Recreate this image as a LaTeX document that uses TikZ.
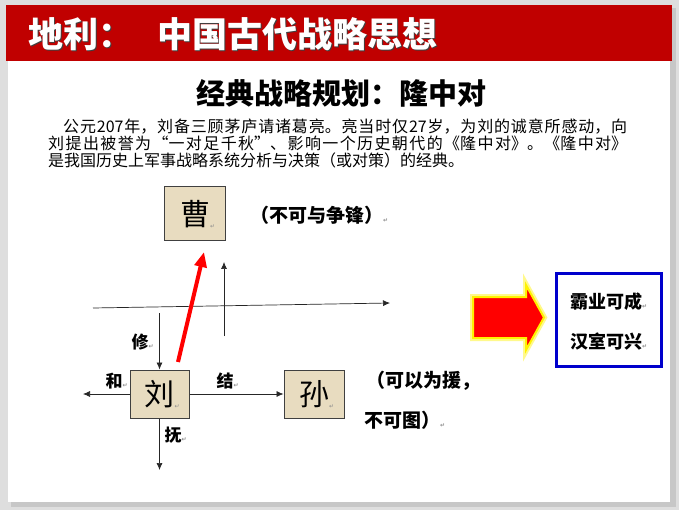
\documentclass[tikz,border=0pt]{standalone}
\usepackage{fontspec}
\newfontfamily\cjk{Noto Sans CJK SC}
\newfontfamily\symfont{DejaVu Sans}
\usetikzlibrary{arrows.meta}
\XeTeXlinebreaklocale "zh"
\XeTeXlinebreakskip=0pt plus 2pt
\definecolor{hdrred}{RGB}{192,0,0}
\definecolor{boxfill}{RGB}{232,220,192}
\definecolor{boxblue}{RGB}{0,0,204}
\newcommand\retmk{{\symfont\fontsize{6}{6}\selectfont\color{black!45}↵}}
\begin{document}
\begin{tikzpicture}[x=1pt,y=-1pt,
  box/.style={draw=black!75, line width=1pt, fill=boxfill, inner sep=0pt, font=\cjk\fontsize{30}{30}\selectfont},
  lbl/.style={inner sep=0pt, font=\cjk\bfseries\fontsize{17}{17}\selectfont},
  note/.style={inner sep=0pt, anchor=west, font=\cjk\bfseries\fontsize{19}{19}\selectfont},
  goal/.style={inner sep=0pt, font=\cjk\bfseries\fontsize{18}{18}\selectfont},
  arr/.style={-{Latex[length=7pt,width=6pt]}, line width=0.7pt, black!85},
  titlefont/.style={inner sep=0pt, anchor=west, font=\cjk\bfseries\fontsize{35}{35}\selectfont},
]
\useasboundingbox (0,0) rectangle (679,510);
% page and shadow
\fill[black!13] (0,0) rectangle (679,510);
\fill[black!22] (11,8) rectangle (676,507);
\fill[white] (8,5) rectangle (670,502);
\fill[hdrred] (6,5) rectangle (672,61);
% header title
\node[titlefont, text=black!75] at (29.5,35.5) {地利：\hspace{24pt}中国古代战略思想};
\node[titlefont, text=white] (title) at (28,34) {地利：\hspace{24pt}中国古代战略思想};
% subtitle
\node[inner sep=0pt, font=\cjk\bfseries\fontsize{29}{29}\selectfont] (sub) at (341,93) {经典战略规划：隆中对};
% paragraph
\node[anchor=north west, inner sep=0pt, text width=579pt, align=justify,
      font=\cjk\fontsize{16}{17}\selectfont] (para) at (48,119)
  {\hspace*{15pt}公元207年，刘备三顾茅庐请诸葛亮。亮当时仅27岁，为刘的诚意所感动，向\linebreak
   刘提出被誉为“一对足千秋”、影响一个历史朝代的《隆中对》。《隆中对》\linebreak
   是我国历史上军事战略系统分析与决策（或对策）的经典。};
% axes
\coordinate (xL) at (93,308);
\coordinate (xR) at (390,303);
\draw[arr] (xL) -- (xR);
\coordinate (yB) at (224,336);
\coordinate (yT) at (224,262);
\draw[arr] (yB) -- (yT);
% boxes
\node[box, minimum width=61pt, minimum height=54pt] (cao) at (195,214) {曹\rlap{\raisebox{-3pt}{\retmk}}};
\node[box, minimum width=59pt, minimum height=48pt] (liu) at (159.5,394) {刘\rlap{\raisebox{-3pt}{\retmk}}};
\node[box, minimum width=60pt, minimum height=48pt] (sun) at (314,394) {孙\rlap{\raisebox{-3pt}{\retmk}}};
% connectors around liu
\coordinate (xiuT) at (159.5,313);
\draw[arr] (xiuT) -- (liu.north);
\coordinate (heL) at (83,394);
\draw[arr] (liu.west) -- (heL);
\draw[arr] (liu.east) -- (sun.west);
\coordinate (fuB) at (159.5,470);
\draw[arr] (liu.south) -- (fuB);
% red arrow
\coordinate (rs) at (178,362);
\coordinate (rt) at (204,252);
\draw[red, line width=4pt, -{Triangle[length=15pt,width=12pt]}] (rs) -- (rt);
% labels
\node[lbl] (lxiu) at (140,342) {修\rlap{\retmk}};
\node[lbl] (lhe) at (114,381) {和\rlap{\retmk}};
\node[lbl] (ljie) at (225,381) {结\rlap{\retmk}};
\node[lbl] (lfu) at (173,435) {抚\rlap{\retmk}};
% notes
\node[note] (ncao) at (250,215) {（不可与争锋）\retmk};
\node[note] (nsun1) at (366,381) {（可以为援，};
\node[note] (nsun2) at (364,420) {不可图）\retmk};
% big block arrow
\draw[fill=red, draw=yellow, line width=2pt, line join=miter,
      preaction={draw=yellow!45, line width=6pt}]
  (473,297) -- (526,297) -- (526,285) -- (544,317.5) -- (526,350) -- (526,338) -- (473,338) -- cycle;
% result box
\node[draw=boxblue, line width=3pt, minimum width=105pt, minimum height=93pt, inner sep=0pt] (res) at (609,320) {};
\node[goal] (g1) at (606,302) {霸业可成\rlap{\retmk}};
\node[goal] (g2) at (606,342) {汉室可兴\rlap{\retmk}};
\end{tikzpicture}
\end{document}
